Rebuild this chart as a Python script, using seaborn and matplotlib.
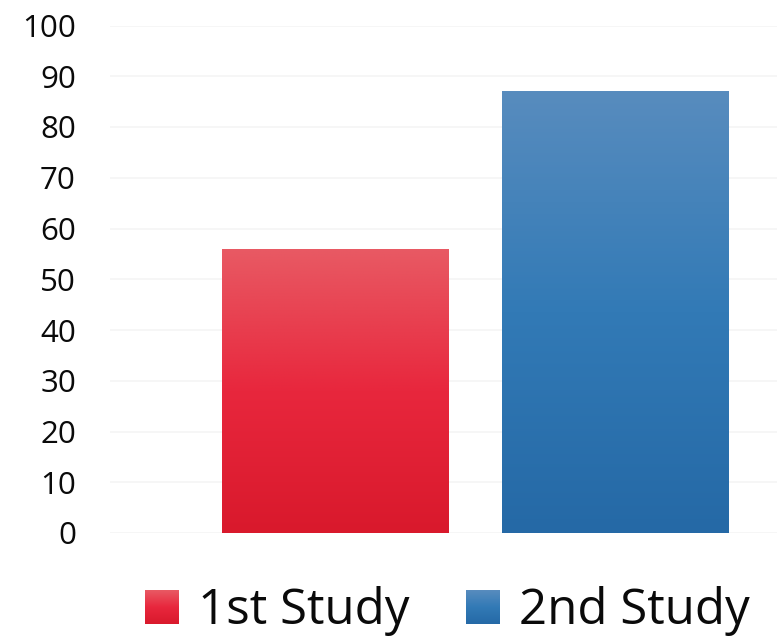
import numpy as np
import matplotlib
matplotlib.use("Agg")
import matplotlib.pyplot as plt
import seaborn as sns
from matplotlib.colors import LinearSegmentedColormap
from matplotlib.image import BboxImage
from matplotlib.transforms import Bbox, TransformedBbox
from matplotlib.patches import Rectangle

# --- data ---
studies = ["1st Study", "2nd Study"]
scores = [56, 87]
y_ticks = list(range(0, 101, 10))

# gradient stops (top -> bottom) for each bar
grad_colors = {
    "1st Study": ["#e85a64", "#e8273d", "#d9192c"],
    "2nd Study": ["#588cbe", "#327ab6", "#2569a6"],
}

sns.set_theme(style="white")
plt.rcParams['font.family'] = ['Open Sans', 'DejaVu Sans']

fig = plt.figure(figsize=(7.77, 6.38), dpi=100)
ax = fig.add_axes([110 / 777, 105 / 638, 667 / 777, 507.5 / 638])

sns.barplot(x=studies, y=scores, hue=studies, palette=[c[1] for c in grad_colors.values()],
            width=0.81, legend=False, ax=ax, zorder=2)


def grad_img(stops):
    cmap = LinearSegmentedColormap.from_list("g", stops)
    return cmap(np.linspace(0, 1, 256))[:, None, :]


# --- gradient fill clipped to each bar ---
for patch, name in zip(ax.patches, studies):
    x, y = patch.get_x(), patch.get_y()
    w, h = patch.get_width(), patch.get_height()
    im = ax.imshow(grad_img(grad_colors[name]), extent=[x, x + w, y, y + h],
                   aspect='auto', origin='upper', zorder=3)
    im.set_clip_path(patch)
    patch.set_facecolor('none')
    patch.set_edgecolor('none')

ax.set_xlim(-0.805, 1.577)
ax.set_ylim(0, 100)
ax.set_yticks(y_ticks)
ax.set_xticks([])
ax.yaxis.grid(True, color="#f5f5f5", linewidth=1.2, zorder=0)
ax.set_axisbelow(True)
for s in ax.spines.values():
    s.set_visible(False)
ax.tick_params(axis='y', length=0, pad=24.5, labelsize=22.5, labelcolor="#0a0a0a")


# --- legend with gradient squares ---
class GradHandler:
    def __init__(self, stops):
        self.stops = stops

    def legend_artist(self, legend, orig_handle, fontsize, handlebox):
        x0, y0 = handlebox.xdescent, handlebox.ydescent
        w, h = handlebox.width, handlebox.height
        rect = Rectangle((-x0, -y0), w, h, facecolor='none', edgecolor='none')
        handlebox.add_artist(rect)
        bb = TransformedBbox(Bbox.from_bounds(-x0, -y0, w, h), handlebox.get_transform())
        img = BboxImage(bb, interpolation='bilinear')
        img.set_data(grad_img(self.stops))
        handlebox.add_artist(img)
        return rect


handles = [Rectangle((0, 0), 1, 1, label=n) for n in studies]
fig.legend(handles=handles, labels=studies, loc='center', bbox_to_anchor=(0.576, 0.042),
           ncol=2, frameon=False, fontsize=35.5, handlelength=0.67, handleheight=0.67,
           handletextpad=0.4, columnspacing=1.15, borderaxespad=0, borderpad=0,
           labelcolor="#0a0a0a",
           handler_map={h: GradHandler(grad_colors[n]) for h, n in zip(handles, studies)})

fig.savefig("out.png", dpi=100)
